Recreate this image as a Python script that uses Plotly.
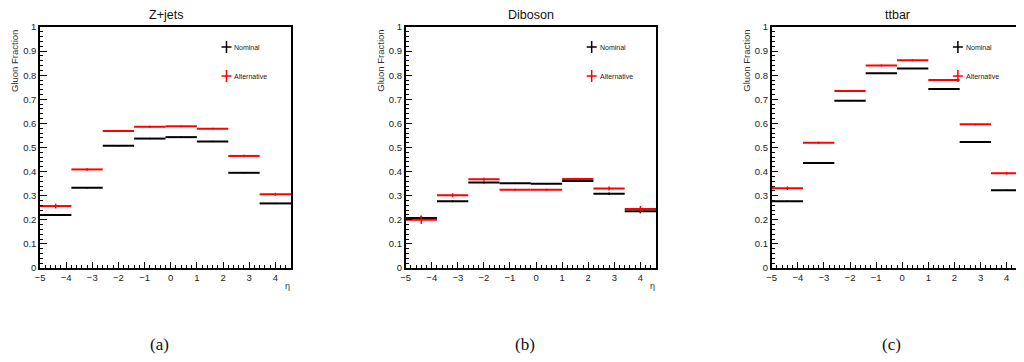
import plotly.graph_objects as go

# ---- data ----
EDGES = [-5.0, -3.8, -2.6, -1.4, -0.2, 1.0, 2.2, 3.4, 4.6]
PANELS = ["Z+jets", "Diboson", "ttbar"]
SUBLABELS = ["(a)", "(b)", "(c)"]

zjets_nom = [0.220, 0.333, 0.507, 0.537, 0.543, 0.525, 0.395, 0.268]
zjets_nom_err = [0.004, 0.003, 0.003, 0.003, 0.003, 0.003, 0.003, 0.003]
zjets_alt = [0.257, 0.409, 0.568, 0.586, 0.588, 0.578, 0.465, 0.306]
zjets_alt_err = [0.010, 0.005, 0.004, 0.004, 0.004, 0.004, 0.005, 0.006]

dib_nom = [0.207, 0.277, 0.355, 0.352, 0.350, 0.361, 0.308, 0.235]
dib_nom_err = [0.010, 0.004, 0.004, 0.003, 0.003, 0.004, 0.005, 0.008]
dib_alt = [0.200, 0.302, 0.368, 0.325, 0.325, 0.369, 0.330, 0.245]
dib_alt_err = [0.017, 0.008, 0.006, 0.004, 0.004, 0.006, 0.008, 0.012]

tt_nom = [0.277, 0.436, 0.694, 0.808, 0.828, 0.743, 0.523, 0.323]
tt_nom_err = [0.003, 0.002, 0.002, 0.002, 0.002, 0.002, 0.002, 0.003]
tt_alt = [0.331, 0.520, 0.734, 0.840, 0.862, 0.780, 0.596, 0.393]
tt_alt_err = [0.007, 0.004, 0.004, 0.004, 0.004, 0.004, 0.004, 0.005]

SERIES = [
    (zjets_nom, zjets_nom_err, zjets_alt, zjets_alt_err),
    (dib_nom, dib_nom_err, dib_alt, dib_alt_err),
    (tt_nom, tt_nom_err, tt_alt, tt_alt_err),
]
LEGEND_NAMES = ["Nominal", "Alternative"]
COLORS = ["#000000", "#ff0000"]

# ---- layout geometry (target pixels in the 1024x362 window) ----
OFF = 8  # page body margin
W, H = 1024 - OFF, 362 - OFF
PLOT_X = [(40, 291), (405.7, 656), (771.7, 1022.3)]
PLOT_Y = (27, 268)  # top, bottom


def px(x):
    return (x - OFF) / W


def py(y):
    return 1 - (y - OFF) / H


centers = [(EDGES[i] + EDGES[i + 1]) / 2 for i in range(len(EDGES) - 1)]
halfw = [(EDGES[i + 1] - EDGES[i]) / 2 for i in range(len(EDGES) - 1)]

fig = go.Figure()
annotations = []
shapes = []
FONT = "Liberation Sans, Arial, sans-serif"


def ann(text, x, y, size, color="#222", xanchor="center", yanchor="middle",
        family=FONT, angle=0):
    return dict(text=text, x=px(x), y=py(y), xref="paper", yref="paper",
                showarrow=False, xanchor=xanchor, yanchor=yanchor,
                textangle=angle, font=dict(family=family, size=size, color=color))


for p, (name, sub, ser) in enumerate(zip(PANELS, SUBLABELS, SERIES)):
    xa = "x" if p == 0 else f"x{p+1}"
    ya = "y" if p == 0 else f"y{p+1}"
    nom, nom_e, alt, alt_e = ser
    for k, (vals, errs) in enumerate([(nom, nom_e), (alt, alt_e)]):
        fig.add_trace(go.Scatter(
            x=centers, y=vals, mode="markers",
            marker=dict(size=1, color=COLORS[k], opacity=0),
            error_x=dict(type="data", array=halfw, symmetric=True, width=0,
                         thickness=2, color=COLORS[k]),
            error_y=dict(type="data", array=errs, symmetric=True, width=0,
                         thickness=1.5, color=COLORS[k]),
            xaxis=xa, yaxis=ya, showlegend=False, name=LEGEND_NAMES[k],
            hoverinfo="x+y",
        ))
    x0, x1 = PLOT_X[p]
    axkey_x = "xaxis" if p == 0 else f"xaxis{p+1}"
    axkey_y = "yaxis" if p == 0 else f"yaxis{p+1}"
    fig.update_layout(**{
        axkey_x: dict(
            domain=[px(x0), min(1.0, px(x1))], anchor=ya, range=[EDGES[0], EDGES[-1]],
            tick0=0, dtick=1, ticks="inside", ticklen=6, tickwidth=1,
            tickcolor="black", showline=True, linecolor="black", linewidth=1.5,
            mirror=True, showgrid=False, zeroline=False, automargin=False,
            tickfont=dict(family=FONT, size=9.5, color="#222"),
            minor=dict(ticks="inside", ticklen=3, dtick=0.2, tickcolor="black",
                       showgrid=False),
        ),
        axkey_y: dict(
            domain=[py(PLOT_Y[1]), py(PLOT_Y[0])], anchor=xa, range=[0, 1],
            tick0=0, dtick=0.1, ticks="inside", ticklen=7, tickwidth=1,
            tickcolor="black", showline=True, linecolor="black", linewidth=1.5,
            mirror=True, showgrid=False, zeroline=False, automargin=False,
            tickfont=dict(family=FONT, size=9.5, color="#222"),
            minor=dict(ticks="inside", ticklen=3.5, dtick=0.02, tickcolor="black",
                       showgrid=False),
        ),
    })
    annotations.append(ann(name, (x0 + x1) / 2, 15.5, 12.5, "#111"))
    annotations.append(ann("Gluon Fraction", x0 - 26, 28, 9.5, "#333",
                           xanchor="center", yanchor="top", angle=-90))
    annotations.append(ann("η", x1 - 4, 286, 9, "#333"))
    annotations.append(ann(sub, (x0 + x1) / 2 - 6, 344, 17, "#111",
                           family="Liberation Serif, serif"))
    # legend
    cx = x0 + 0.743 * (x1 - x0)
    for k, cy in enumerate([47, 76]):
        shapes.append(dict(type="line", xref="paper", yref="paper",
                           x0=px(cx), x1=px(cx), y0=py(cy - 6), y1=py(cy + 6),
                           line=dict(color=COLORS[k], width=1.5)))
        shapes.append(dict(type="line", xref="paper", yref="paper",
                           x0=px(cx - 5), x1=px(cx + 5), y0=py(cy), y1=py(cy),
                           line=dict(color=COLORS[k], width=1.5)))
        annotations.append(ann(LEGEND_NAMES[k], cx + 6, cy, 7, "#222",
                               xanchor="left"))

fig.update_layout(
    width=W, height=H, margin=dict(l=0, r=0, t=0, b=0, pad=0, autoexpand=False),
    paper_bgcolor="white", plot_bgcolor="white",
    annotations=annotations, shapes=shapes, showlegend=False,
)

fig.write_html("out.html")
